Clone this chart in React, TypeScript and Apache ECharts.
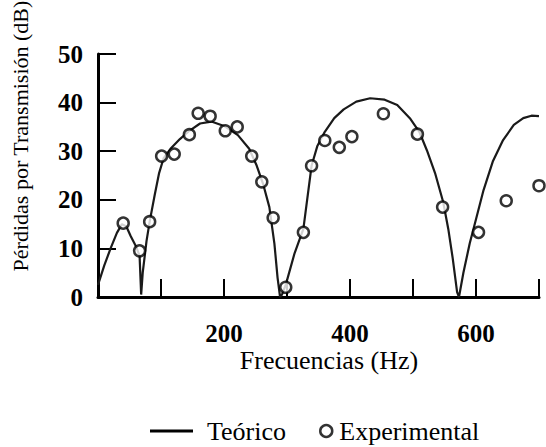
import React, { useEffect, useRef } from "react";
import * as echarts from "echarts";

const xTicks = [0, 100, 200, 300, 400, 500, 600, 700];
const xLabelsShown = [200, 400, 600];
const yTicks = [0, 10, 20, 30, 40, 50];

const theoHz = [0, 10, 20, 30, 38, 45, 52, 60, 66, 68.5, 71, 77, 82, 90, 97, 104, 115, 130, 145, 162, 180, 200, 222, 240, 252, 262, 272, 280, 285, 289, 292, 298, 312, 326, 333, 339, 348, 360, 375, 390, 410, 432, 455, 475, 495, 510, 522, 535, 548, 556, 563, 570, 573, 580, 590, 600, 612, 627, 643, 660, 675, 688, 700];
const theoDb = [2.5, 6.5, 10, 13.2, 15, 14.5, 12.5, 10.5, 8.5, 0.5, 5, 11.5, 15.5, 21, 25.5, 28.5, 30.5, 32.5, 34.2, 35.7, 36.1, 35.2, 33.3, 30.5, 27, 23.3, 18.5, 11, 4, 0, 0.5, 2.5, 9, 14, 21, 27, 31, 34, 36.8, 38.6, 40.2, 40.9, 40.6, 39.5, 36.8, 34, 30.2, 25.5, 19.5, 14, 8, 1, 0, 5, 11, 16, 22, 28, 32.3, 35.4, 36.8, 37.3, 37.2];

const expHz = [40, 66, 82, 101, 121, 145, 159, 178, 202, 221, 244, 260, 278, 298, 326, 339, 360, 383, 403, 453, 507, 547, 604, 648, 700];
const expDb = [15.2, 9.5, 15.5, 29, 29.4, 33.4, 37.8, 37.2, 34.2, 35, 29, 23.7, 16.3, 2, 13.3, 27, 32.2, 30.8, 33, 37.7, 33.5, 18.5, 13.3, 19.8, 22.9];

const seriesNames = ["Teórico", "Experimental"];
const xTitle = "Frecuencias (Hz)";
const yTitle = "Pérdidas por Transmisión (dB)";

const FONT = "Liberation Serif";

export default function App() {
  const ref = useRef<HTMLDivElement>(null);
  useEffect(() => {
    if (!ref.current) return;
    const chart = echarts.init(ref.current, null, { renderer: "svg" });
    const theo = theoHz.map((h, i) => [h, theoDb[i]]);
    const exp = expHz.map((h, i) => [h, expDb[i]]);
    chart.setOption({
      animation: false,
      backgroundColor: "#fff",
      textStyle: { fontFamily: FONT },
      grid: { left: 98, right: 7, top: 54, bottom: 150, containLabel: false },
      xAxis: {
        type: "value",
        min: xTicks[0],
        max: xTicks[xTicks.length - 1],
        interval: 100,
        splitLine: { show: false },
        axisLine: { show: true, onZero: false, lineStyle: { color: "#000", width: 3 } },
        axisTick: { show: true, inside: true, length: 18, lineStyle: { color: "#000", width: 2 } },
        axisLabel: {
          show: true,
          margin: 24,
          color: "#000",
          fontFamily: FONT,
          fontWeight: "bold",
          fontSize: 25,
          formatter: (v: number) => (xLabelsShown.indexOf(v) >= 0 ? String(v) : ""),
        },
      },
      yAxis: {
        type: "value",
        min: yTicks[0],
        max: yTicks[yTicks.length - 1],
        interval: 10,
        splitLine: { show: false },
        axisLine: { show: true, onZero: false, lineStyle: { color: "#000", width: 3 } },
        axisTick: { show: true, inside: true, length: 18, lineStyle: { color: "#000", width: 2 } },
        axisLabel: {
          show: true,
          margin: 15,
          color: "#000",
          fontFamily: FONT,
          fontWeight: "bold",
          fontSize: 25,
        },
      },
      legend: [
        {
          data: [{ name: seriesNames[0], icon: "rect" }],
          left: 145,
          top: 413,
          itemWidth: 43,
          itemHeight: 3,
          selectedMode: false,
          itemStyle: { color: "#000" },
          textStyle: { color: "#000", fontFamily: FONT, fontSize: 26, padding: [0, 0, 0, 9] },
        },
        {
          data: [{ name: seriesNames[1], icon: "circle" }],
          left: 314,
          top: 413,
          itemWidth: 12,
          itemHeight: 12,
          selectedMode: false,
          itemStyle: { color: "#fff", borderColor: "#000", borderWidth: 2.5 },
          textStyle: { color: "#000", fontFamily: FONT, fontSize: 26, padding: [0, 0, 0, 2] },
        },
      ],
      graphic: [
        {
          type: "text",
          x: 329,
          y: 360,
          style: {
            text: xTitle,
            fontFamily: FONT,
            fontSize: 26,
            fill: "#000",
            textAlign: "center",
            textVerticalAlign: "middle",
          },
        },
        {
          type: "text",
          x: 20,
          y: 136,
          rotation: Math.PI / 2,
          style: {
            text: yTitle,
            fontFamily: FONT,
            fontSize: 22,
            fill: "#000",
            textAlign: "center",
            textVerticalAlign: "middle",
          },
        },
      ],
      series: [
        {
          name: seriesNames[0],
          type: "line",
          data: theo,
          showSymbol: false,
          symbol: "none",
          smooth: false,
          lineStyle: { color: "#1a1a1a", width: 2.2 },
          itemStyle: { color: "#000" },
          z: 2,
        },
        {
          name: seriesNames[1],
          type: "scatter",
          data: exp,
          symbol: "circle",
          symbolSize: 11,
          clip: false,
          itemStyle: { color: "#fff", borderColor: "#000", borderWidth: 2.5 },
          z: 3,
        },
      ],
    });
    return () => chart.dispose();
  }, []);
  return (
    <div
      ref={ref}
      style={{ position: "absolute", left: 0, top: 0, width: 546, height: 447 }}
    />
  );
}
